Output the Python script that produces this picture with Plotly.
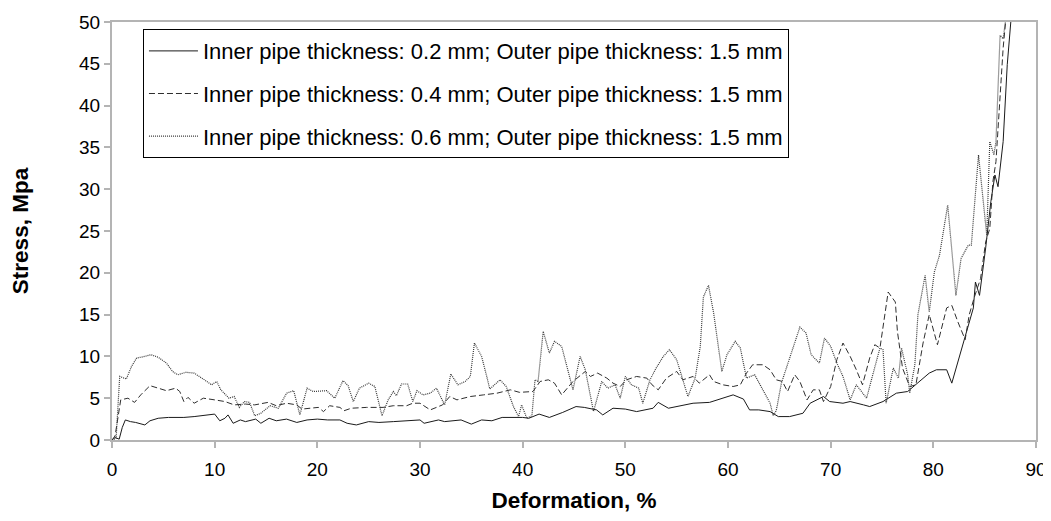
import plotly.graph_objects as go

# Series 1: inner pipe 0.2 mm (solid)
x1 = [0, 0.3, 0.7, 1.0, 1.3, 1.8, 2.3, 2.7, 3.2, 3.7, 4.5, 5.5, 7, 8, 9.5, 10, 10.5, 11, 11.3, 11.8,
      12.5, 13, 14, 14.5, 15.3, 16, 17, 18, 19, 20, 21, 22.2, 22.9, 23.8, 25, 26, 27.4, 28.7, 30, 30.4,
      31.8, 32.4, 34, 35, 36, 37, 38, 40, 40.6, 41.6, 42.6, 43.9, 45.2, 46, 47.2, 47.8, 48.8, 50, 51.1,
      52.7, 53.2, 54.2, 55, 56.6, 58.2, 59.5, 60.5, 61.5, 62.1, 63.0, 64.1, 64.9, 66.0, 67.3, 68.0, 69.3,
      69.9, 71.2, 71.9, 73.2, 73.8, 75.1, 76.4, 77.5, 78.7, 79.6, 80.3, 81.3, 81.8, 82.6, 83.1, 83.9,
      84.1, 84.5, 85.1, 85.6, 86.0, 86.3, 86.8, 87.2, 87.6]
y1 = [0, 0.3, 0.1, 1.5, 2.4, 2.2, 2.1, 2.0, 1.8, 2.3, 2.6, 2.7, 2.7, 2.8, 3.0, 3.1, 2.3, 2.6, 3.0, 2.0,
      2.4, 2.2, 2.5, 2.0, 2.6, 2.3, 2.5, 2.1, 2.4, 2.5, 2.4, 2.4, 2.0, 1.8, 2.2, 2.1, 2.2, 2.3, 2.4, 2.0,
      2.4, 2.2, 2.4, 1.9, 2.4, 2.3, 2.7, 2.7, 2.6, 3.1, 2.7, 3.3, 4.0, 3.9, 3.6, 3.0, 3.8, 3.7, 3.4,
      3.8, 4.5, 3.8, 4.0, 4.4, 4.5, 5.0, 5.4, 4.9, 3.6, 3.6, 3.4, 2.8, 2.8, 3.2, 4.4, 5.2,
      4.6, 4.4, 4.6, 4.2, 4.0, 4.6, 5.6, 5.8, 7.0, 8.0, 8.4, 8.4, 6.8, 10.2, 12.2, 15.8,
      18.9, 17.3, 23.0, 28.5, 31.7, 30.3, 35.7, 44.9, 50.8]

# Series 2: inner pipe 0.4 mm (dashed)
x2 = [0, 0.3, 0.85, 1.55, 2.2, 2.8, 3.7, 4.5, 5.3, 6.2, 6.6, 7.0, 7.4, 8.0, 8.9, 10, 11, 11.9, 13, 13.9,
      15.2, 16.0, 17.0, 18.0, 18.5, 19.3, 20.1, 20.6, 21.2, 22.2, 22.6, 23.3, 24.8, 26.4, 27.4, 28.7,
      29.3, 30.0, 31.0, 32.2, 32.9, 33.6, 34.9, 36.2, 37.5, 38.8, 39.7, 41.0, 41.7, 42.5, 43.1, 43.8,
      44.9, 46.1, 46.6, 47.3, 48.2, 48.8, 49.5, 50.1, 51.1, 52.1, 52.6, 53.2, 54.0, 55.0, 55.6, 56.6,
      57.2, 58.2, 58.6, 59.5, 60.5, 61.2, 61.8, 62.4, 63.4, 64.1, 64.7, 65.3, 65.8, 66.5, 67.0, 67.7,
      68.3, 68.9, 69.3, 70.0, 70.6, 71.2, 71.9, 72.5, 73.1, 73.8, 74.3, 74.8, 75.6, 76.3, 76.5, 77.0,
      77.7, 78.3, 79.0, 79.6, 80.4, 81.3, 81.8, 82.4, 83.1, 83.5, 84.0, 84.6, 85.1, 85.5, 85.8, 86.1,
      86.5, 86.8, 87.1]
y2 = [0, 0.5, 4.8, 5.0, 4.5, 5.4, 6.5, 6.2, 5.9, 6.2, 5.8, 4.6, 5.1, 4.4, 5.0, 4.8, 4.6, 4.2, 4.3, 4.2,
      4.5, 4.1, 4.4, 4.2, 3.7, 3.8, 3.9, 3.4, 4.1, 3.9, 3.5, 3.8, 3.9, 3.9, 4.1, 4.1,
      4.4, 4.4, 3.6, 4.2, 5.2, 4.8, 5.2, 5.4, 5.6, 6.0, 5.7, 5.8, 7.0, 7.2, 6.8, 5.4,
      7.0, 8.2, 7.6, 8.0, 7.4, 6.8, 6.4, 7.2, 7.6, 7.4, 6.6, 6.0, 7.4, 8.2, 7.2, 7.6,
      6.8, 7.8, 7.0, 6.6, 6.4, 6.6, 8.0, 9.0, 9.0, 8.4, 7.2, 7.0, 5.8, 7.8, 7.0, 4.8,
      6.0, 6.0, 4.6, 6.4, 9.6, 11.6, 10.0, 8.4, 6.6, 9.8, 11.4, 11.0, 17.7, 16.5, 13.0, 8.6,
      6.4, 6.6, 11.6, 15.0, 11.4, 15.8, 16.1, 14.1, 12.0, 15.0, 17.1, 19.3, 23.7, 25.3, 30.9, 33.3,
      40.9, 46.9, 50.8]

# Series 3: inner pipe 0.6 mm (dotted)
x3 = [0, 0.4, 0.75, 1.4, 1.9, 2.4, 3.2, 3.8, 4.5, 5.3, 5.9, 6.4, 7.2, 8.0, 9.0, 9.7, 10.2, 10.6, 11.4,
      11.9, 12.4, 12.9, 13.4, 13.9, 14.5, 15.4, 16.2, 17.0, 17.7, 18.3, 19.0, 19.6, 20.9, 21.7, 22.5,
      23.0, 23.5, 24.1, 25.0, 25.6, 26.3, 26.9, 27.4, 27.7, 28.2, 28.8, 29.3, 29.7, 30.3, 31.0, 31.6,
      32.4, 33.0, 33.7, 34.4, 34.9, 35.3, 36.0, 36.5, 36.8, 37.8, 38.4, 39.1, 39.6, 39.9, 40.4, 40.9,
      41.2, 41.5, 42.0, 42.6, 43.1, 43.8, 44.4, 44.9, 45.6, 46.1, 46.9, 47.7, 48.3, 49.0, 49.5, 50.0,
      50.6, 51.3, 51.7, 52.4, 53.0, 53.7, 54.3, 55.0, 55.5, 56.1, 56.8, 57.3, 57.6, 58.1, 58.6, 59.4,
      59.9, 60.7, 61.2, 61.8, 62.6, 63.4, 64.1, 64.4, 64.7, 65.2, 65.8, 66.5, 67.0, 67.6, 68.1, 68.9,
      69.4, 70.0, 70.6, 71.2, 71.9, 72.5, 73.5, 74.1, 74.8, 75.1, 75.4, 76.1, 76.6, 76.9, 77.5, 77.7,
      78.2, 78.5, 79.2, 79.6, 80.1, 80.6, 81.4, 82.2, 82.7, 83.4, 83.7, 84.4, 85.2, 85.5, 85.9, 86.1,
      86.5, 86.8, 87.1]
y3 = [0, 0.2, 7.6, 7.3, 8.8, 9.8, 10.0, 10.2, 9.9, 9.2, 8.2, 7.8, 8.1, 8.0, 7.2, 6.6, 7.0, 6.0, 5.0,
      5.2, 3.9, 4.6, 4.5, 2.9, 3.2, 4.1, 3.8, 5.6, 5.9, 3.0, 6.2, 5.8, 5.9, 5.0, 7.1,
      6.5, 4.6, 6.2, 6.8, 6.4, 2.9, 4.8, 5.8, 5.3, 6.7, 6.7, 4.6, 5.9, 5.4, 5.6, 6.2,
      4.2, 7.9, 6.6, 7.0, 7.6, 11.6, 10.0, 7.6, 6.1, 7.2, 6.4, 4.0, 2.8, 4.2, 2.6, 2.9,
      7.2, 7.0, 13.0, 10.4, 11.8, 11.2, 8.4, 6.0, 10.0, 8.4, 3.4, 7.0, 6.2, 6.6, 5.0, 7.6,
      6.6, 6.2, 4.4, 7.2, 8.6, 10.0, 10.8, 9.6, 7.6, 5.2, 7.4, 11.2, 17.1, 18.5, 15.2, 8.2,
      10.2, 11.8, 11.0, 7.4, 7.8, 6.0, 4.4, 2.9, 3.5, 6.8, 9.0, 11.6, 13.5, 12.8, 10.2, 9.2,
      12.2, 11.2, 9.2, 7.6, 4.8, 6.6, 5.0, 7.8, 11.0, 10.8, 4.4, 8.6, 7.4, 11.0, 7.8, 5.6,
      9.0, 15.0, 19.7, 15.3, 20.1, 22.1, 28.1, 17.3, 21.7, 23.3, 23.3, 34.1, 24.5, 35.7, 34.1, 35.7,
      48.4, 48.0, 50.8]

names = ["Inner pipe thickness: 0.2 mm; Outer pipe thickness: 1.5 mm",
         "Inner pipe thickness: 0.4 mm; Outer pipe thickness: 1.5 mm",
         "Inner pipe thickness: 0.6 mm; Outer pipe thickness: 1.5 mm"]

x_ticks = [0, 10, 20, 30, 40, 50, 60, 70, 80, 90]
y_ticks = [0, 5, 10, 15, 20, 25, 30, 35, 40, 45, 50]

FONT = "Arial, Liberation Sans, sans-serif"
AX = "#b4b4b4"

fig = go.Figure()
styles = [("#1a1a1a", "solid", 1), ("#2e2e2e", "6px,3px", 1), ("#3a3a3a", "1px,1px", 1.2)]
for i, (xs, ys) in enumerate([(x1, y1), (x2, y2), (x3, y3)]):
    c, d, w = styles[i]
    fig.add_trace(go.Scatter(x=xs, y=ys, mode="lines", name=names[i], legendgroup=f"g{i}",
                             line=dict(color=c, width=w, dash=d), cliponaxis=True))

# page body adds an 8px offset; the figure is sized/margined to compensate
fig.update_layout(
    width=1043, height=513,
    margin=dict(l=104, r=15, t=14, b=81),
    paper_bgcolor="white", plot_bgcolor="white",
    font=dict(family=FONT, size=19, color="black"),
    showlegend=True,
    legend=dict(x=0.0335, y=0.983, xanchor="left", yanchor="top",
                bordercolor="black", borderwidth=1, bgcolor="white",
                font=dict(size=22, family=FONT), traceorder="grouped", tracegroupgap=11,
                itemwidth=49),
    xaxis=dict(range=[0, 90], tickvals=x_ticks, showgrid=False, zeroline=False,
               showline=True, linecolor=AX, linewidth=2, mirror=True, automargin=False,
               ticks="outside", ticklen=6, tickwidth=2, tickcolor=AX,
               tickfont=dict(size=19), ticklabelstandoff=5,
               title=dict(text="<b>Deformation, %</b>", font=dict(size=22.5), standoff=13)),
    yaxis=dict(range=[0, 50], tickvals=y_ticks, showgrid=False, zeroline=False,
               showline=True, linecolor=AX, linewidth=2, mirror=True, automargin=False,
               ticks="outside", ticklen=6, tickwidth=2, tickcolor=AX,
               tickfont=dict(size=19), ticklabelstandoff=0,
               title=dict(text="<b>Stress, Mpa</b>", font=dict(size=22.5), standoff=45)),
)

fig.write_html("out.html")
